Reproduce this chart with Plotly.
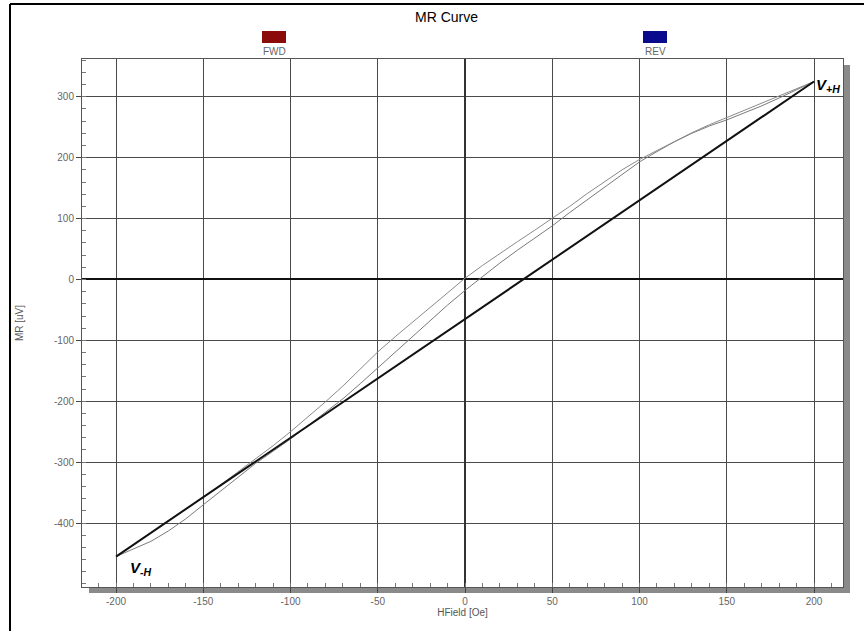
import plotly.graph_objects as go

# ---- data ----
hfield = [-200, -190, -180, -170, -160, -150, -140, -130, -120, -110, -100,
          -90, -80, -70, -60, -50, -40, -30, -20, -10, 0,
          10, 20, 30, 40, 50, 60, 70, 80, 90, 100,
          110, 120, 130, 140, 150, 160, 170, 180, 190, 200]
mr_rev = [-455, -436, -416, -396, -377, -358, -337, -316, -295, -273, -250,
          -226, -201, -175, -147, -119, -94, -70, -46, -22, 2,
          23, 43, 62, 81, 100, 120, 141, 161, 180, 197,
          212, 227, 241, 254, 266, 278, 290, 302, 313, 325]
mr_fwd = [-455, -443, -430, -413, -393, -370, -347, -325, -302, -282, -262,
          -240, -218, -196, -171, -145, -119, -93, -67, -42, -18,
          5, 27, 48, 68, 88, 110, 131, 152, 173, 193,
          210, 226, 240, 252, 262, 273, 285, 298, 311, 325]
line_h = [-200, 200]
line_v = [-455, 325]

x_ticks = [-200, -150, -100, -50, 0, 50, 100, 150, 200]
x_labels = ["-200", "-150", "-100", "-50", "0", "50", "100", "150", "200"]
y_ticks = [-400, -300, -200, -100, 0, 100, 200, 300]
y_labels = ["-400", "-300", "-200", "-100", "0", "100", "200", "300"]

# ---- layout geometry (pixels) ----
W, H = 864, 631
L, R, T, B = 82, 21, 59, 44
PW, PH = W - L - R, H - T - B


def px(x):
    return (x - L) / PW


def py(y):
    return (H - B - y) / PH


fig = go.Figure()
fig.add_trace(go.Scatter(x=hfield, y=mr_fwd, mode="lines", name="FWD",
                         line=dict(color="#7a7a7a", width=1), showlegend=False))
fig.add_trace(go.Scatter(x=hfield, y=mr_rev, mode="lines", name="REV",
                         line=dict(color="#8a8a8a", width=1), showlegend=False))
fig.add_trace(go.Scatter(x=line_h, y=line_v, mode="lines", name="fit",
                         line=dict(color="#111111", width=2), showlegend=False))

FONT = "Liberation Sans Narrow, Liberation Sans, Arial"
tickfont = dict(family=FONT, size=10, color="#666666")

fig.update_xaxes(range=[-219.5, 216.6], tickvals=x_ticks, ticktext=x_labels,
                 ticks="outside", ticklen=5,
                 tickcolor="#444", showgrid=True, gridcolor="#4a4a4a", gridwidth=1,
                 zeroline=True, zerolinecolor="#333333", zerolinewidth=2,
                 showline=True, linecolor="#555555", linewidth=1, mirror=True,
                 minor=dict(dtick=10, ticks="inside", ticklen=4, tickcolor="#777", showgrid=False),
                 tickfont=tickfont,
                 title=dict(text="HField [Oe]", font=dict(family=FONT, size=10, color="#555555"), standoff=2))
fig.update_yaxes(range=[-505, 362], tickvals=y_ticks, ticktext=y_labels,
                 ticks="outside", ticklen=5,
                 tickcolor="#444", showgrid=True, gridcolor="#4a4a4a", gridwidth=1,
                 zeroline=True, zerolinecolor="#111111", zerolinewidth=2,
                 showline=True, linecolor="#555555", linewidth=1, mirror=True,
                 minor=dict(dtick=20, ticks="inside", ticklen=4, tickcolor="#777", showgrid=False),
                 tickfont=tickfont,
                 title=dict(text="MR [uV]", font=dict(family=FONT, size=10, color="#555555"), standoff=28))

shapes = [
    # drop shadow (right and bottom)
    dict(type="rect", xref="paper", yref="paper", x0=1, x1=px(L + PW + 7), y0=py(H - B + 6), y1=py(T + 6),
         fillcolor="#8a8a8a", line=dict(width=0), layer="below"),
    dict(type="rect", xref="paper", yref="paper", x0=px(L + 7), x1=px(L + PW + 7), y0=py(H - B + 6), y1=0,
         fillcolor="#8a8a8a", line=dict(width=0), layer="below"),
    # outer frame
    dict(type="line", xref="paper", yref="paper", x0=px(10), x1=px(10), y0=py(4), y1=py(H + 5),
         line=dict(color="#000000", width=2)),
    dict(type="line", xref="paper", yref="paper", x0=px(10), x1=px(W + 5), y0=py(4), y1=py(4),
         line=dict(color="#000000", width=2)),
    # legend swatches
    dict(type="rect", xref="paper", yref="paper", x0=px(262), x1=px(286), y0=py(43), y1=py(31),
         fillcolor="#8b0a0a", line=dict(width=0)),
    dict(type="rect", xref="paper", yref="paper", x0=px(643), x1=px(667), y0=py(43), y1=py(31),
         fillcolor="#0a0a8c", line=dict(width=0)),
]

lab = dict(family=FONT, size=10, color="#666666")
vfont = dict(family="Liberation Sans, Arial", size=15, color="#000000")
annotations = [
    dict(text="MR Curve", xref="paper", yref="paper", x=px(446), y=py(17), showarrow=False,
         font=dict(family="Liberation Sans, Arial", size=14, color="#000000"), xanchor="center", yanchor="middle"),
    dict(text="FWD", xref="paper", yref="paper", x=px(274), y=py(51), showarrow=False,
         font=lab, xanchor="center", yanchor="middle"),
    dict(text="REV", xref="paper", yref="paper", x=px(655), y=py(51), showarrow=False,
         font=lab, xanchor="center", yanchor="middle"),
    dict(text="<b><i>V</i></b><sub><b><i>+H</i></b></sub>", x=200, y=325, xref="x", yref="y",
         showarrow=False, xanchor="left", yanchor="middle", xshift=0, yshift=-4, font=vfont),
    dict(text="<b><i>V</i></b><sub><b><i>-H</i></b></sub>", x=-200, y=-455, xref="x", yref="y",
         showarrow=False, xanchor="left", yanchor="middle", xshift=12, yshift=-12, font=vfont),
]

fig.update_layout(width=W, height=H, margin=dict(l=L, r=R, t=T, b=B),
                  paper_bgcolor="#ffffff", plot_bgcolor="#ffffff",
                  shapes=shapes, annotations=annotations, showlegend=False)

fig.write_html("out.html")
